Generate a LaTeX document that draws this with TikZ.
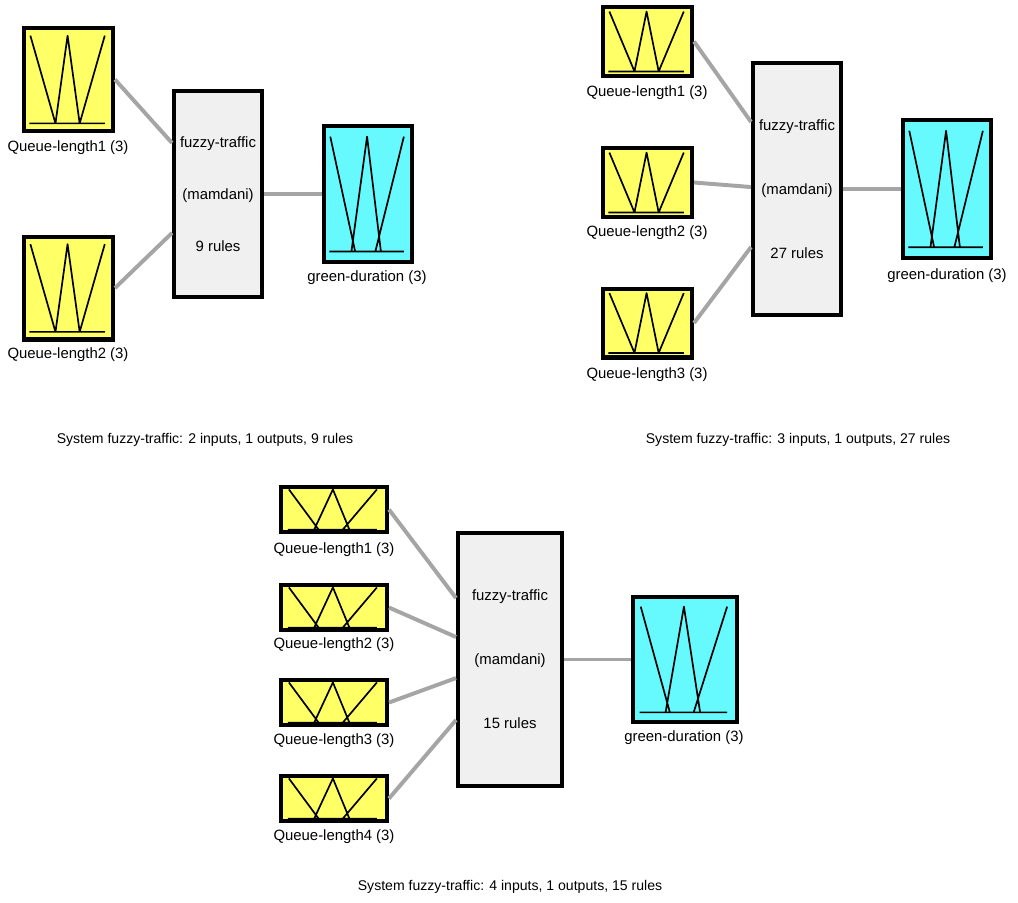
\documentclass[tikz,border=0pt]{standalone}
\usepackage{fontspec}
\setmainfont{Liberation Sans}
\usetikzlibrary{calc}

\definecolor{inyellow}{RGB}{255,255,102}
\definecolor{outcyan}{RGB}{102,250,255}
\definecolor{fisgray}{RGB}{240,240,240}
\definecolor{linkgray}{RGB}{165,165,165}

\newcommand{\mfplot}[6]{%
  \draw[mfline] let \p1=(#1.south west), \p2=(#1.north east) in
     ({\x1+.09*(\x2-\x1)},{\y1+.91*(\y2-\y1)}) -- ({\x1+#2*(\x2-\x1)},{\y1+.09*(\y2-\y1)})
     ({\x1+#3*(\x2-\x1)},{\y1+.09*(\y2-\y1)}) -- ({\x1+#4*(\x2-\x1)},{\y1+.91*(\y2-\y1)}) -- ({\x1+#5*(\x2-\x1)},{\y1+.09*(\y2-\y1)})
     ({\x1+#6*(\x2-\x1)},{\y1+.09*(\y2-\y1)}) -- ({\x1+.89*(\x2-\x1)},{\y1+.91*(\y2-\y1)})
     ({\x1+.08*(\x2-\x1)},{\y1+.09*(\y2-\y1)}) -- ({\x1+.89*(\x2-\x1)},{\y1+.09*(\y2-\y1)});}
\newcommand{\mfmeet}[1]{\mfplot{#1}{.36}{.36}{.49}{.62}{.62}}
\newcommand{\mfcross}[1]{\mfplot{#1}{.36}{.32}{.49}{.64}{.58}}

\begin{document}
\begin{tikzpicture}[x=0.025cm, y=-0.025cm,
     boxsize/.style 2 args={minimum width=#1*0.025cm-3pt, minimum height=#2*0.025cm-3pt},
     inbox/.style={draw, line width=3pt, fill=inyellow, inner sep=0pt},
     outbox/.style={draw, line width=3pt, fill=outcyan, inner sep=0pt},
     fisbox/.style={draw, line width=3pt, fill=fisgray, inner sep=0pt, align=center, font=\fontsize{10.6}{12.7}\selectfont},
     mfline/.style={line width=1.2pt, line join=round},
     link/.style={draw=linkgray, line width=2.8pt},
     lbl/.style={inner sep=0pt, font=\fontsize{10.6}{12.7}\selectfont},
     caption/.style={inner sep=0pt, font=\fontsize{10}{12}\selectfont}]
     \useasboundingbox (0,0) rectangle (1018,902);

     \node [inbox, boxsize={93}{107}] (qa1) at (68.5,79.5) {};
     \node [inbox, boxsize={93}{107}] (qa2) at (68.5,288) {};
     \node [fisbox, boxsize={92}{210}] (fisa) at (218,194) {fuzzy-traffic\\[24.3pt](mamdani)\\[24.3pt]9 rules};
     \node [outbox, boxsize={92}{140}] (outa) at (368,194) {};
     \mfmeet{qa1} \mfmeet{qa2} \mfcross{outa}
     \node [lbl] (qa1l) at (68,148) {Queue-length1 (3)};
     \node [lbl] (qa2l) at (68,355) {Queue-length2 (3)};
     \node [lbl] (outal) at (367,278) {green-duration (3)};
     \draw[link] (qa1.east) -- ([yshift=36.3pt]fisa.west);
     \draw[link] (qa2.east) -- ([yshift=-27.7pt]fisa.west);
     \draw[link] (fisa.east) -- (outa.west);
     \node [caption] (capa) at (205,440) {System fuzzy-traffic: 2 inputs, 1 outputs, 9 rules};

     \node [inbox, boxsize={93}{73}] (qb1) at (647.5,41.5) {};
     \node [inbox, boxsize={93}{73}] (qb2) at (647.5,182.5) {};
     \node [inbox, boxsize={93}{73}] (qb3) at (647.5,323) {};
     \node [fisbox, boxsize={92}{256}] (fisb) at (797,189) {fuzzy-traffic\\[32.8pt](mamdani)\\[32.8pt]27 rules};
     \node [outbox, boxsize={92}{142}] (outb) at (947,189) {};
     \mfmeet{qb1} \mfmeet{qb2} \mfmeet{qb3} \mfcross{outb}
     \node [lbl] (qb1l) at (647,93) {Queue-length1 (3)};
     \node [lbl] (qb2l) at (647,233) {Queue-length2 (3)};
     \node [lbl] (qb3l) at (647,375) {Queue-length3 (3)};
     \node [lbl] (outbl) at (947,276) {green-duration (3)};
     \draw[link] (qb1.east) -- ([yshift=47.7pt]fisb.west);
     \draw[link] (qb2.east) -- ([yshift=1.4pt]fisb.west);
     \draw[link] (qb3.east) -- ([yshift=-41.3pt]fisb.west);
     \draw[link] (fisb.east) -- (outb.west);
     \node [caption] (capb) at (798,440) {System fuzzy-traffic: 3 inputs, 1 outputs, 27 rules};

     \node [inbox, boxsize={110}{49}] (qc1) at (334,509.5) {};
     \node [inbox, boxsize={110}{49}] (qc2) at (334,607.5) {};
     \node [inbox, boxsize={110}{49}] (qc3) at (334,702.5) {};
     \node [inbox, boxsize={110}{49}] (qc4) at (334,798.5) {};
     \node [fisbox, boxsize={108}{257}] (fisc) at (510,659.5) {fuzzy-traffic\\[32.8pt](mamdani)\\[32.8pt]15 rules};
     \node [outbox, boxsize={108}{129}] (outc) at (685,659.5) {};
     \mfcross{qc1} \mfcross{qc2} \mfcross{qc3} \mfcross{qc4} \mfcross{outc}
     \node [lbl] (qc1l) at (334,550) {Queue-length1 (3)};
     \node [lbl] (qc2l) at (334,645) {Queue-length2 (3)};
     \node [lbl] (qc3l) at (334,741) {Queue-length3 (3)};
     \node [lbl] (qc4l) at (334,837) {Queue-length4 (3)};
     \node [lbl] (outcl) at (684,738) {green-duration (3)};
     \draw[link] (qc1.east) -- ([yshift=43.7pt]fisc.west);
     \draw[link] (qc2.east) -- ([yshift=16pt]fisc.west);
     \draw[link] (qc3.east) -- ([yshift=-13.2pt]fisc.west);
     \draw[link] (qc4.east) -- ([yshift=-43pt]fisc.west);
     \draw[link] (fisc.east) -- (outc.west);
     \node [caption] (capc) at (510,887) {System fuzzy-traffic: 4 inputs, 1 outputs, 15 rules};
  \end{tikzpicture}
\end{document}
